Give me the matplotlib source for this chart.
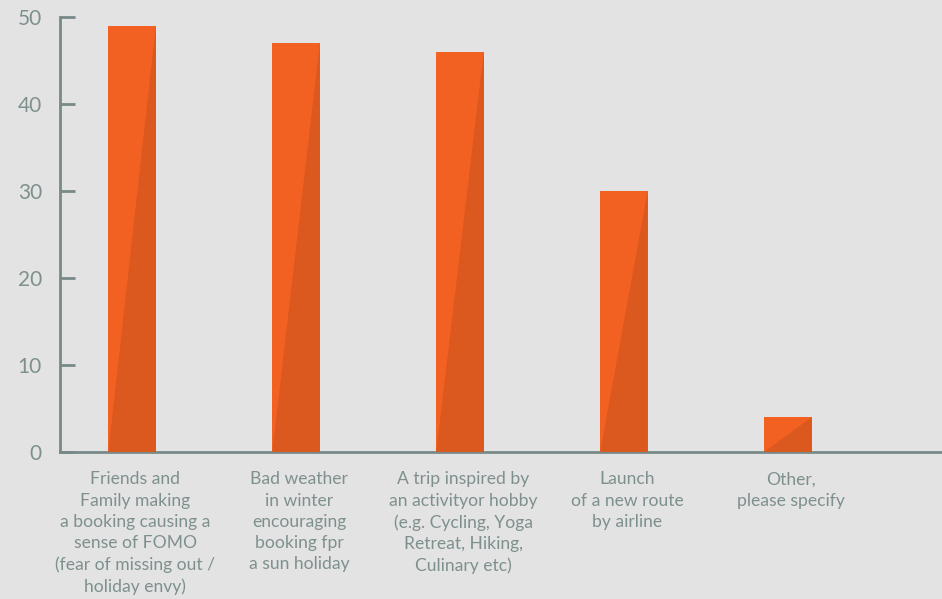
import numpy as np
import matplotlib.pyplot as plt

categories = [
    "Friends and\nFamily making\na booking causing a\nsense of FOMO\n(fear of missing out /\nholiday envy)",
    "Bad weather\nin winter\nencouraging\nbooking fpr\na sun holiday",
    "A trip inspired by\nan activityor hobby\n(e.g. Cycling, Yoga\nRetreat, Hiking,\nCulinary etc)",
    "Launch\nof a new route\nby airline",
    "Other,\nplease specify",
]
values = [49, 47, 46, 30, 4]
yticks = [0, 10, 20, 30, 40, 50]

bg = "#e3e3e3"
orange = "#f26122"
dark = "#db581e"
axis_col = "#778a88"
text_col = "#7e908e"

plt.rcParams["font.family"] = ["Lato", "DejaVu Sans"]

fig = plt.figure(figsize=(9.42, 5.99), dpi=100, facecolor=bg)
ax = fig.add_axes([60 / 942, (599 - 452) / 599, 1 - 60 / 942, (452 - 17) / 599])
ax.set_facecolor(bg)

x = np.arange(len(values))
width = 0.29
ax.bar(x, values, width=width, color=orange, zorder=2)

# darker triangle inside each bar
for xi, v in zip(x, values):
    x0, x1 = xi - width / 2, xi + width / 2
    ax.fill([x0, x1, x1], [0, v, 0], color=dark, lw=0, zorder=3)

ax.set_xlim(-0.44, 4.94)
ax.set_ylim(0, 50)
ax.set_yticks(yticks)
ax.set_xticks(x + 0.02)
ax.set_xticklabels(categories, fontsize=12.6, color=text_col, linespacing=1.4, va="top")

for s in ["top", "right"]:
    ax.spines[s].set_visible(False)
for s in ["left", "bottom"]:
    ax.spines[s].set_color(axis_col)
    ax.spines[s].set_linewidth(2)

ax.tick_params(axis="y", direction="in", length=11, width=2, color=axis_col,
               labelsize=15, labelcolor=text_col, pad=13)
ax.tick_params(axis="x", length=0, pad=14)

fig.savefig("out.png", dpi=100, facecolor=bg)
